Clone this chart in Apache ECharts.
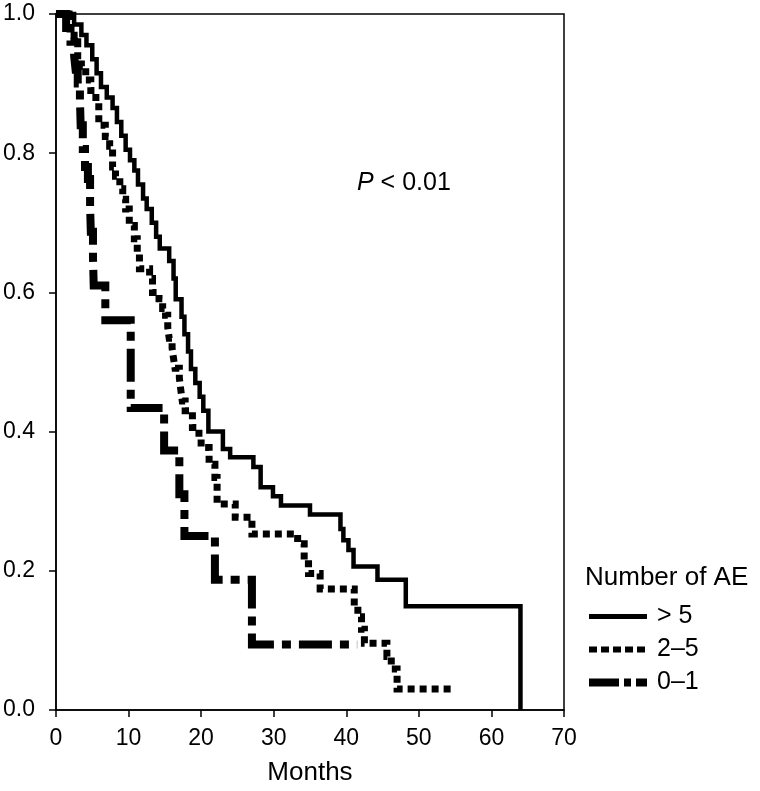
<!DOCTYPE html>
<html><head><meta charset="utf-8">
<script src="https://cdn.jsdelivr.net/npm/echarts@6/dist/echarts.min.js"></script>
<style>html,body{margin:0;padding:0;background:#fff}#c{width:760px;height:791px}</style>
</head><body><div id="c"></div>
<script>
const seriesNames = ['> 5', '2–5', '0–1'];
const legendTitle = 'Number of AE';
const pText = 'P';
const pRest = ' < 0.01';

// > 5 adverse events (solid)
const t_gt5 = [0, 2.5, 3.5, 4.2, 5.0, 5.6, 6.2, 7.0, 7.8, 8.4, 9.0, 9.6, 10.2, 10.8, 11.3, 12.0, 12.5, 13.2, 13.8, 14.3, 15.6, 16.2, 16.5, 17.3, 17.7, 18.2, 18.6, 19.2, 19.8, 20.3, 21.0, 23.0, 24.0, 27.2, 28.2, 29.9, 31.0, 35.0, 39.2, 39.6, 40.3, 41.0, 44.3, 48.2, 64.0];
const s_gt5 = [1.0, 0.985, 0.97, 0.955, 0.935, 0.915, 0.895, 0.88, 0.865, 0.845, 0.825, 0.805, 0.79, 0.775, 0.755, 0.735, 0.72, 0.70, 0.68, 0.663, 0.645, 0.62, 0.59, 0.565, 0.54, 0.515, 0.49, 0.47, 0.45, 0.43, 0.40, 0.375, 0.363, 0.349, 0.32, 0.307, 0.294, 0.281, 0.26, 0.244, 0.23, 0.206, 0.187, 0.149, 0.0];

// 2-5 adverse events (dotted)
const t_2to5 = [0, 1.8, 2.5, 3.0, 3.5, 4.1, 4.8, 5.5, 5.9, 6.8, 7.4, 7.8, 8.2, 8.8, 9.2, 9.6, 10.1, 10.8, 11.2, 11.5, 12.9, 13.3, 14.2, 14.7, 15.1, 15.4, 15.6, 16.0, 16.2, 16.4, 17.0, 17.2, 17.4, 17.8, 18.8, 19.7, 20.0, 21.1, 21.9, 22.2, 24.7, 27.0, 33.3, 34.2, 34.8, 36.4, 41.1, 41.6, 42.1, 42.5, 45.6, 46.2, 47.0, 55.0];
const s_2to5 = [1.0, 0.98, 0.96, 0.94, 0.925, 0.905, 0.89, 0.873, 0.84, 0.824, 0.81, 0.78, 0.767, 0.749, 0.734, 0.72, 0.696, 0.677, 0.655, 0.634, 0.62, 0.60, 0.591, 0.577, 0.567, 0.55, 0.534, 0.52, 0.505, 0.491, 0.477, 0.46, 0.444, 0.43, 0.406, 0.39, 0.377, 0.353, 0.334, 0.296, 0.277, 0.253, 0.239, 0.21, 0.196, 0.174, 0.149, 0.134, 0.116, 0.096, 0.077, 0.059, 0.03, 0.03];

// 0-1 adverse events (dash-dot)
const t_0to1 = [0, 1.4, 2.0, 2.5, 2.7, 3.0, 3.3, 3.4, 3.7, 4.0, 4.4, 4.7, 4.8, 5.1, 5.2, 6.8, 10.3, 14.9, 17.0, 17.7, 21.9, 27.0, 41.5];
const s_0to1 = [1.0, 0.98, 0.96, 0.94, 0.92, 0.90, 0.877, 0.84, 0.806, 0.78, 0.763, 0.724, 0.687, 0.65, 0.61, 0.56, 0.434, 0.373, 0.31, 0.25, 0.187, 0.094, 0.094];

function pairs(t, s) { return t.map((v, i) => [v, s[i]]); }

const FONT = '"Liberation Sans", Arial, Helvetica, sans-serif';
const chart = echarts.init(document.getElementById('c'), null, { renderer: 'canvas' });

const lineStyles = [
  { color: '#000', width: 4.5, type: 'solid', cap: 'butt', join: 'miter' },
  { color: '#000', width: 7, type: [7, 5], cap: 'butt', join: 'miter' },
  { color: '#000', width: 8, type: [33, 8, 9, 8], cap: 'butt', join: 'miter' }
];
const legendLineStyles = [
  { color: '#000', width: 5, type: 'solid', cap: 'butt' },
  { color: '#000', width: 6, type: [8, 4], cap: 'butt' },
  { color: '#000', width: 8, type: [30, 5, 7, 5], cap: 'butt' }
];
const dataSets = [pairs(t_gt5, s_gt5), pairs(t_2to5, s_2to5), pairs(t_0to1, s_0to1)];

chart.setOption({
  animation: false,
  backgroundColor: '#fff',
  textStyle: { fontFamily: FONT },
  title: {
    text: legendTitle, left: 585, top: 565, padding: 0,
    textStyle: { fontSize: 26, fontWeight: 'normal', color: '#000', fontFamily: FONT }
  },
  legend: {
    orient: 'vertical', left: 585, top: 604, padding: 0,
    itemWidth: 58, itemHeight: 10, itemGap: 8,
    data: seriesNames.map((n, i) => ({ name: n, itemStyle: { opacity: 0 }, lineStyle: legendLineStyles[i] })),
    textStyle: { fontSize: 25, color: '#000', fontFamily: FONT, padding: [0, 0, 0, 5] }
  },
  grid: { left: 53, right: 196, top: 14, bottom: 77, show: true, borderColor: '#000', borderWidth: 1.5 },
  xAxis: {
    type: 'value', min: 0, max: 70, interval: 10,
    name: 'Months', nameLocation: 'middle', nameGap: 50,
    nameTextStyle: { fontSize: 26, color: '#000', fontFamily: FONT },
    axisLine: { lineStyle: { color: '#000', width: 1.5 } },
    axisTick: { length: 7, lineStyle: { color: '#000', width: 1.5 } },
    axisLabel: { fontSize: 23, color: '#000', margin: 17, fontFamily: FONT },
    splitLine: { show: false }
  },
  yAxis: {
    type: 'value', min: 0, max: 1, interval: 0.2,
    axisLine: { show: true, lineStyle: { color: '#000', width: 1.5 } },
    axisTick: { show: true, length: 7, lineStyle: { color: '#000', width: 1.5 } },
    axisLabel: { fontSize: 23, color: '#000', margin: 21, fontFamily: FONT, formatter: v => v.toFixed(1) },
    splitLine: { show: false }
  },
  graphic: [{
    type: 'text', left: 357, top: 171,
    style: {
      text: '{i|' + pText + '}{n|' + pRest + '}',
      rich: {
        i: { fontSize: 25, fontStyle: 'italic', fill: '#000', fontFamily: FONT },
        n: { fontSize: 25, fill: '#000', fontFamily: FONT }
      }
    }
  }],
  series: seriesNames.map((name, i) => ({
    name: name, type: 'line', step: 'end', data: dataSets[i],
    symbol: 'none', showSymbol: false, clip: false,
    lineStyle: lineStyles[i], itemStyle: { color: '#000' },
    z: 3 - i
  }))
});
</script>
</body></html>
